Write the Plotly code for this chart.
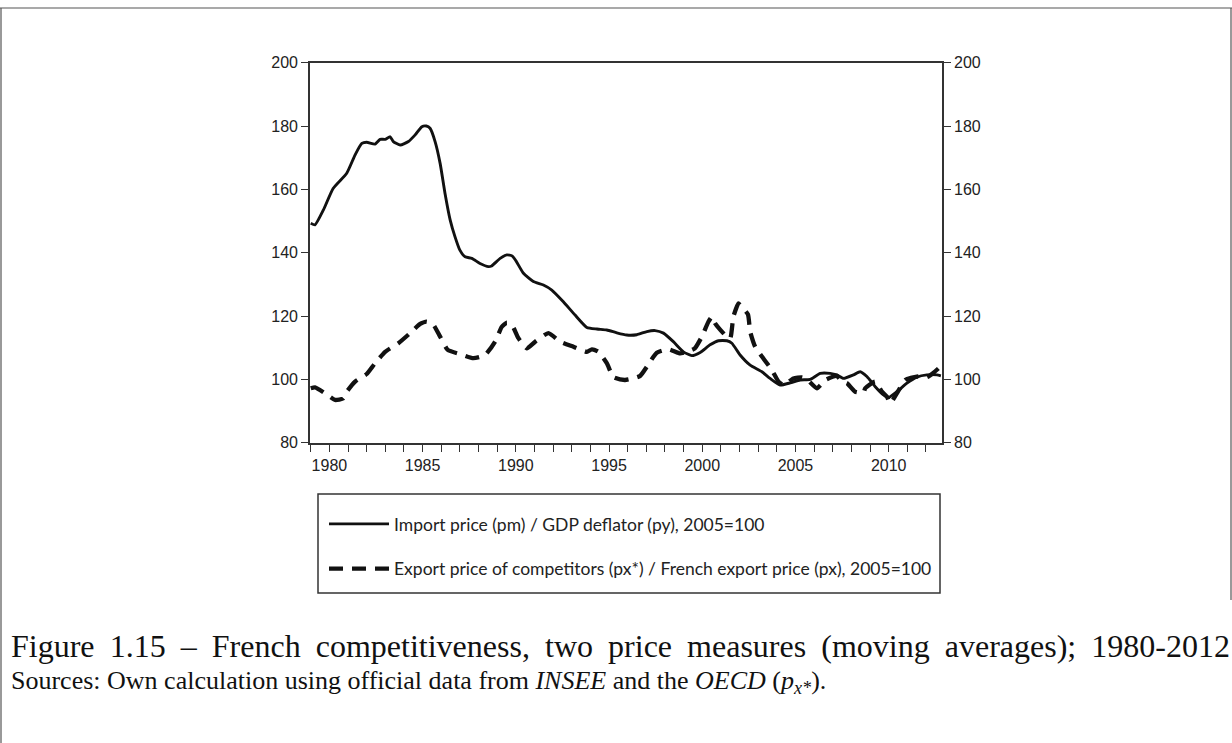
import plotly.graph_objects as go

# ---- data ----
years_pm = [1979.0, 1979.23, 1979.68, 1980.2, 1980.93, 1981.38, 1981.74, 1982.0, 1982.45, 1982.72,
            1982.99, 1983.26, 1983.43, 1983.8, 1984.24, 1984.6, 1984.96, 1985.2, 1985.4, 1985.67,
            1985.94, 1986.2, 1986.48, 1986.74, 1987.0, 1987.28, 1987.64, 1988.08, 1988.53, 1988.7,
            1989.16, 1989.52, 1989.8, 1990.0, 1990.41, 1990.94, 1991.48, 1991.93, 1992.55, 1993.18,
            1993.81, 1994.35, 1994.88, 1995.42, 1995.95, 1996.49, 1997.03, 1997.47, 1997.92, 1998.45,
            1998.99, 1999.44, 1999.89, 2000.42, 2000.87, 2001.32, 2001.59, 2002.03, 2002.57, 2003.2,
            2003.64, 2004.18, 2004.72, 2005.25, 2005.79, 2006.33, 2006.86, 2007.22, 2007.58, 2008.11,
            2008.47, 2008.83, 2009.28, 2009.72, 2010.0, 2010.44, 2010.98, 2011.51, 2012.05, 2012.59,
            2012.8]
pm_py = [149.3, 148.8, 153.5, 160.3, 165.1, 170.9, 174.5, 174.9, 174.3, 175.8,
         175.8, 176.6, 175.1, 174.0, 175.1, 177.2, 179.8, 180.0, 179.3, 175.1,
         168.2, 158.8, 150.3, 145.0, 140.8, 138.7, 138.2, 136.6, 135.6, 135.8,
         138.2, 139.3, 139.0, 137.5, 133.5, 130.9, 129.8, 128.2, 124.5, 120.3,
         116.4, 115.9, 115.6, 114.7, 114.0, 114.1, 115.1, 115.4, 114.6, 111.9,
         108.7, 107.5, 108.5, 110.9, 112.2, 112.2, 111.4, 107.7, 104.5, 102.4,
         100.3, 98.2, 98.9, 99.8, 100.0, 101.9, 101.9, 101.4, 100.3, 101.4,
         102.4, 100.9, 97.7, 95.1, 94.3, 96.1, 98.8, 100.7, 101.4, 101.4,
         101.1]

years_px = [1979.0, 1979.23, 1979.77, 1980.3, 1980.75, 1980.93, 1981.38, 1982.0, 1982.45, 1982.99,
            1983.7, 1984.33, 1984.87, 1985.22, 1985.58, 1985.94, 1986.35, 1987.0, 1987.72, 1988.35,
            1988.89, 1989.25, 1989.52, 1989.79, 1990.14, 1990.59, 1991.04, 1991.75, 1992.38, 1993.09,
            1993.81, 1994.08, 1994.43, 1994.88, 1995.24, 1995.86, 1996.67, 1997.03, 1997.56, 1998.19,
            1998.81, 1999.17, 1999.6, 1999.98, 2000.33, 2000.52, 2000.69, 2001.23, 2001.5, 2001.67,
            2001.94, 2002.03, 2002.45, 2002.57, 2002.84, 2003.2, 2003.73, 2004.09, 2004.36, 2004.89,
            2005.34, 2005.61, 2006.15, 2006.6, 2007.22, 2007.49, 2007.76, 2008.2, 2008.65, 2008.74,
            2009.28, 2009.64, 2009.91, 2010.08, 2010.44, 2010.89, 2011.51, 2012.05, 2012.41, 2012.68]
px_ratio = [97.2, 97.5, 95.6, 93.5, 94.0, 96.1, 99.3, 101.7, 105.1, 108.7,
            111.4, 114.6, 117.5, 118.2, 117.2, 113.5, 109.3, 108.0, 106.7, 107.7,
            111.9, 116.6, 117.9, 117.2, 113.0, 109.8, 111.9, 114.6, 111.9, 110.3,
            108.7, 109.5, 108.7, 105.1, 100.7, 99.8, 101.1, 104.0, 108.4, 109.5,
            108.2, 108.7, 109.8, 113.5, 118.2, 119.8, 117.7, 114.0, 113.0, 119.8,
            124.0, 123.5, 120.5, 115.1, 110.3, 107.2, 103.0, 99.3, 98.2, 100.3,
            100.6, 100.0, 97.2, 99.8, 101.1, 99.3, 98.8, 96.1, 95.8, 97.2,
            99.3, 96.1, 94.5, 92.4, 95.6, 99.8, 100.9, 100.7, 102.1, 103.5]

y_ticks = [80, 100, 120, 140, 160, 180, 200]
x_ticks = [1980, 1985, 1990, 1995, 2000, 2005, 2010]

name_pm = "Import price (pm) / GDP deflator (py), 2005=100"
name_px = "Export price of competitors (px*) / French export price (px), 2005=100"
caption1 = "Figure 1.15 – French competitiveness, two price measures (moving averages); 1980-2012"
caption2 = ("Sources: Own calculation using official data from <i>INSEE</i> and the "
            "<i>OECD</i> (<i>p</i><sub><i>x*</i></sub>).")

W, H = 1232, 743
def px_x(v):
    return v / W
def px_y(v):
    return 1 - v / H

fig = go.Figure()
fig.add_trace(go.Scatter(x=years_pm, y=pm_py, mode="lines", name=name_pm,
                         line=dict(color="#111111", width=2.9, shape="spline", smoothing=0.5),
                         legendgroup="a"))
fig.add_trace(go.Scatter(x=years_px, y=px_ratio, mode="lines", name=name_px, yaxis="y2",
                         line=dict(color="#111111", width=4.3, dash="14px,9px",
                                   shape="spline", smoothing=0.5),
                         legendgroup="b"))

axis_font = dict(family="Liberation Sans, Arial, sans-serif", size=16, color="#222222")
yr = [80, 200]
fig.update_layout(
    width=W, height=H,
    margin=dict(l=0, r=0, t=0, b=0, autoexpand=False),
    paper_bgcolor="white", plot_bgcolor="white",
    showlegend=True,
    legend=dict(x=px_x(324), y=px_y(506), xanchor="left", yanchor="top",
                bgcolor="rgba(0,0,0,0)", borderwidth=0,
                font=dict(family="Lato, sans-serif", size=17.5, color="#222222"),
                tracegroupgap=19, itemwidth=60),
    xaxis=dict(domain=[px_x(310), px_x(942)], range=[1978.96, 2012.86],
               tickvals=x_ticks, ticks="outside", ticklen=7, tickwidth=1.3, tickcolor="#333333",
               minor=dict(dtick=1, tick0=1980, ticks="outside", ticklen=7, tickwidth=1.3,
                          tickcolor="#333333", showgrid=False),
               showline=True, linecolor="#333333", linewidth=1.6, mirror=True,
               showgrid=False, zeroline=False, tickfont=axis_font, fixedrange=True),
    yaxis=dict(domain=[px_y(442.7), px_y(62.7)], range=yr, tickvals=y_ticks,
               ticks="outside", ticklen=7, tickwidth=1.3, tickcolor="#333333",
               showline=True, linecolor="#333333", linewidth=1.6,
               showgrid=False, zeroline=False, tickfont=axis_font),
    yaxis2=dict(overlaying="y", side="right", range=yr, tickvals=y_ticks,
                ticks="outside", ticklen=7, tickwidth=1.3, tickcolor="#333333",
                showline=True, linecolor="#333333", linewidth=1.6,
                showgrid=False, zeroline=False, tickfont=axis_font),
)

# legend box
fig.add_shape(type="rect", xref="paper", yref="paper",
              x0=px_x(318), x1=px_x(940), y0=px_y(593), y1=px_y(494),
              line=dict(color="#333333", width=1.5), fillcolor="rgba(0,0,0,0)")
# outer frame (top, left, right upper part)
fig.add_shape(type="line", xref="paper", yref="paper", x0=0, x1=1, y0=px_y(8), y1=px_y(8),
              line=dict(color="#555555", width=1.2))
fig.add_shape(type="line", xref="paper", yref="paper", x0=px_x(1), x1=px_x(1), y0=0, y1=px_y(8),
              line=dict(color="#555555", width=1.2))
fig.add_shape(type="line", xref="paper", yref="paper", x0=px_x(1231), x1=px_x(1231),
              y0=px_y(600), y1=px_y(8), line=dict(color="#555555", width=1.2))

cap_font1 = dict(family="Liberation Serif, Times New Roman, serif", size=32, color="#111111")
cap_font2 = dict(family="Liberation Serif, Times New Roman, serif", size=26, color="#111111")
fig.add_annotation(text=caption1, xref="paper", yref="paper", x=px_x(9), y=px_y(646),
                   xanchor="left", yanchor="middle", align="left", showarrow=False, font=cap_font1)
fig.add_annotation(text=caption2, xref="paper", yref="paper", x=px_x(9), y=px_y(682),
                   xanchor="left", yanchor="middle", align="left", showarrow=False, font=cap_font2)

# justify the first caption line to the full text width (as in the typeset original)
js = """
document.body.style.margin='0';document.body.style.overflow='hidden';
(function(){
  var els=document.querySelectorAll('.annotation-text');
  if(!els.length){return;}
  var el=els[0];
  var L=el.getComputedTextLength();
  var n=(el.textContent.match(/ /g)||[]).length;
  var target=1219;
  if(n>0 && L<target){ el.style.wordSpacing=((target-L)/n)+'px'; }
})();
"""
fig.write_html("out.html", post_script=js, config={"displayModeBar": False})
